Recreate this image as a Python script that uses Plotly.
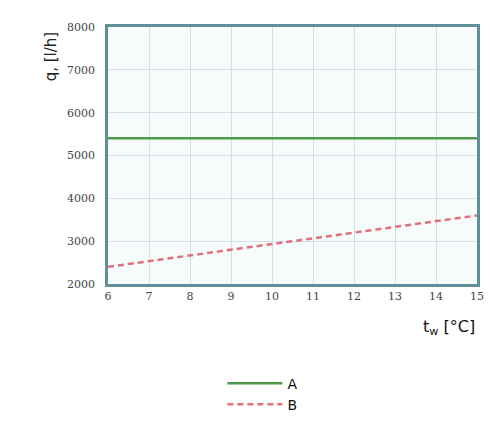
import plotly.graph_objects as go

# Data
t_a = [6, 15]
q_a = [5400, 5400]
t_b = [6, 15]
q_b = [2400, 3600]
series_names = ["A", "B"]
x_ticks = [6, 7, 8, 9, 10, 11, 12, 13, 14, 15]
y_ticks = [2000, 3000, 4000, 5000, 6000, 7000, 8000]

fig = go.Figure()
fig.add_trace(go.Scatter(x=t_a, y=q_a, mode="lines", name=series_names[0],
                         line=dict(color="#4f9a4a", width=2.5)))
fig.add_trace(go.Scatter(x=t_b, y=q_b, mode="lines", name=series_names[1],
                         line=dict(color="#e0707a", width=2.5, dash="6px,4px")))

axis_line = "#5f9099"
grid = "#d3e1e4"
tick_font = dict(family="DejaVu Serif, serif", size=11, color="#444444")

fig.update_layout(
    width=493, height=444,
    margin=dict(l=108, r=9, t=27, b=160),
    paper_bgcolor="white",
    plot_bgcolor="#f6fbfc",
    showlegend=True,
    legend=dict(x=0.31, y=-0.325, xanchor="left", yanchor="top",
                font=dict(family="DejaVu Sans, sans-serif", size=14, color="#111111"),
                itemwidth=55, tracegroupgap=0, bgcolor="rgba(0,0,0,0)"),
    xaxis=dict(range=[6, 15], tickvals=x_ticks, ticktext=[str(v) for v in x_ticks],
               showgrid=True, gridcolor=grid, gridwidth=1.2,
               showline=True, linecolor=axis_line, linewidth=2.5, mirror=True,
               ticks="", tickfont=tick_font, zeroline=False),
    yaxis=dict(range=[2000, 8000], tickvals=y_ticks, ticktext=[str(v) for v in y_ticks],
               showgrid=True, gridcolor=grid, gridwidth=1.2,
               showline=True, linecolor=axis_line, linewidth=2.5, mirror=True,
               ticks="", ticklabelstandoff=8, tickfont=tick_font, zeroline=False),
    annotations=[
        dict(text="t<sub>w</sub> [°C]", xref="paper", yref="paper", x=1.0, y=-0.12,
             xanchor="right", yanchor="top", showarrow=False,
             font=dict(family="DejaVu Sans, sans-serif", size=16, color="#111111")),
        dict(text="q, [l/h]", xref="paper", yref="paper", x=-0.155, y=0.885,
             xanchor="center", yanchor="middle", textangle=-90, showarrow=False,
             font=dict(family="DejaVu Sans, sans-serif", size=15, color="#222222")),
    ],
)

fig.write_html("out.html", config={"displayModeBar": False},
               post_script="document.body.style.margin='0';document.body.style.padding='0';")
